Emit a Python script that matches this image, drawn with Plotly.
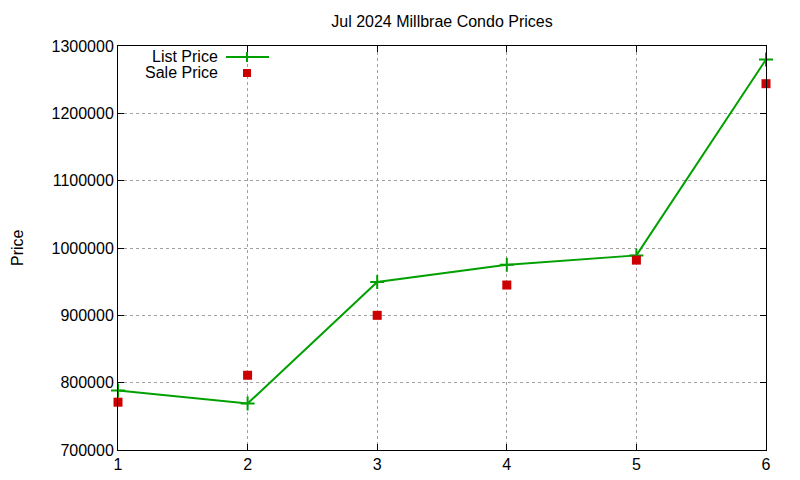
import plotly.graph_objects as go

x_vals = [1, 2, 3, 4, 5, 6]
list_price = [788500, 769000, 949500, 975000, 989000, 1280000]
sale_price = [771000, 811000, 900000, 945000, 982000, 1244000]
y_ticks = [700000, 800000, 900000, 1000000, 1100000, 1200000, 1300000]

GREEN = "#00a000"
RED = "#cc0000"
FONT = "Liberation Sans, Arial, sans-serif"

# page offset compensation (body margin)
OFF = 7
PL, PR, PT, PB = 117, 765, 45, 449  # plot area in screen pixels
W, H = PR - PL, PB - PT
L = PL - OFF
T = PT - OFF
R = 800 - L - W
B = 480 - T - H

fig = go.Figure()
fig.add_trace(go.Scatter(x=x_vals, y=list_price, mode="lines+markers", name="List Price",
                         line=dict(color=GREEN, width=2),
                         marker=dict(symbol="cross-thin", size=10, line=dict(color=GREEN, width=2)),
                         cliponaxis=False))
fig.add_trace(go.Scatter(x=x_vals, y=sale_price, mode="markers", name="Sale Price",
                         marker=dict(symbol="square", size=9, color=RED),
                         cliponaxis=False))


def px(x):
    return (x - PL) / W


def py(y):
    return (PB - y) / H


shapes = [
    dict(type="line", xref="paper", yref="paper", x0=px(225), x1=px(268), y0=py(56), y1=py(56),
         line=dict(color=GREEN, width=2)),
    dict(type="line", xref="paper", yref="paper", x0=px(246), x1=px(246), y0=py(51), y1=py(61),
         line=dict(color=GREEN, width=2)),
    dict(type="rect", xref="paper", yref="paper", x0=px(242), x1=px(250), y0=py(68), y1=py(76),
         fillcolor=RED, line=dict(width=0)),
]

annotations = [
    dict(text="List Price", xref="paper", yref="paper", x=px(218), y=py(55), xanchor="right",
         yanchor="middle", showarrow=False, height=15, borderpad=0,
         font=dict(size=16, color="black", family=FONT)),
    dict(text="Sale Price", xref="paper", yref="paper", x=px(218), y=py(71.5), xanchor="right",
         yanchor="middle", showarrow=False, height=15, borderpad=0,
         font=dict(size=16, color="black", family=FONT)),
    dict(text="Price", xref="paper", yref="paper", x=px(16), y=0.5, xanchor="center",
         yanchor="middle", textangle=-90, showarrow=False,
         font=dict(size=16, color="black", family=FONT)),
]

fig.update_layout(
    width=800, height=480,
    margin=dict(l=L, r=R, t=T, b=B),
    paper_bgcolor="white", plot_bgcolor="white",
    showlegend=False,
    title=dict(text="Jul 2024 Millbrae Condo Prices", x=(L + W / 2) / 800, xanchor="center",
               y=1 - (20 - OFF) / 480, yanchor="middle", font=dict(size=16, color="black", family=FONT)),
    font=dict(family=FONT, size=16, color="black"),
    shapes=shapes,
    annotations=annotations,
)

fig.update_xaxes(range=[1, 6], tickvals=x_vals, ticks="inside", ticklen=6, tickcolor="black",
                 showline=True, linecolor="black", linewidth=1, mirror="allticks",
                 showgrid=True, gridcolor="#a0a0a0", griddash="dot", gridwidth=1,
                 zeroline=False, tickfont=dict(size=16))
fig.update_yaxes(range=[700000, 1300000], tickvals=y_ticks, tickformat="d", ticks="inside", ticklen=6,
                 tickcolor="black", showline=True, linecolor="black", linewidth=1, mirror="allticks",
                 showgrid=True, gridcolor="#a0a0a0", griddash="dot", gridwidth=1,
                 zeroline=False, tickfont=dict(size=16))

fig.write_html("out.html")
